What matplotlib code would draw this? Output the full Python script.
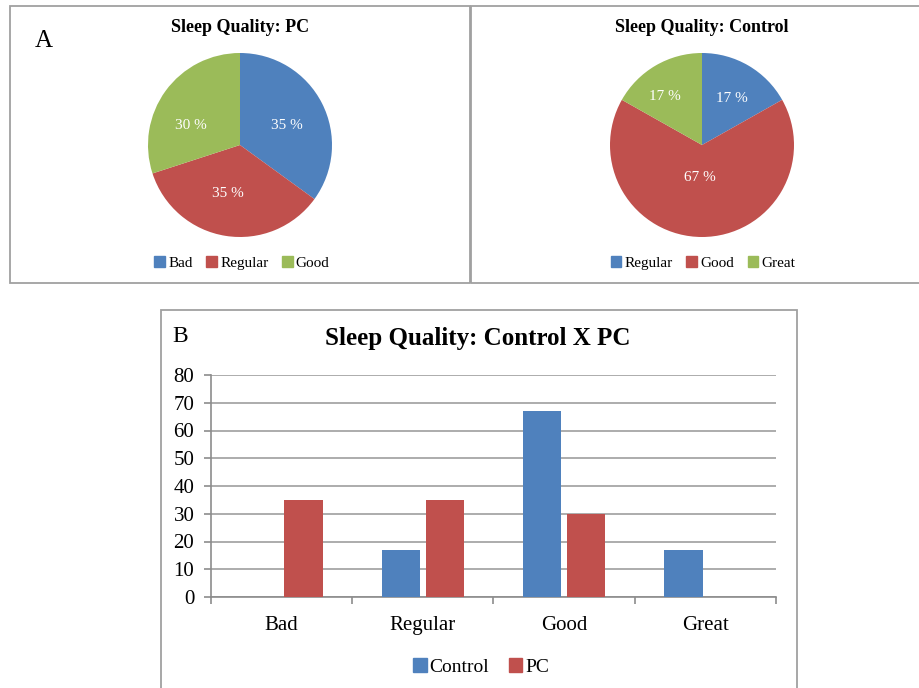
import numpy as np
import matplotlib.pyplot as plt
from matplotlib.patches import Rectangle, Patch

plt.rcParams['font.family'] = ['Liberation Serif', 'DejaVu Serif']

W, H = 920, 688
BLUE, RED, GREEN = '#4F81BD', '#C0504D', '#9BBB59'
GRAY = '#A0A0A0'

# pie data
pc_labels = ['Bad', 'Regular', 'Good']
pc_values = [35, 35, 30]
ctrl_labels = ['Regular', 'Good', 'Great']
ctrl_values = [17, 67, 17]

# bar data
categories = ['Bad', 'Regular', 'Good', 'Great']
control_bars = [0, 17, 67, 17]
pc_bars = [35, 35, 30, 0]


def fx(x):
    return x / W


def fy(y):
    return 1 - y / H


def box(x0, y0, x1, y1):
    # pixel box (top-left origin) -> figure fraction rect
    return [fx(x0), fy(y1), fx(x1) - fx(x0), fy(y0) - fy(y1)]


fig = plt.figure(figsize=(9.2, 6.88), dpi=100)

# panel frames
for x0, y0, x1, y1 in [(10, 6, 470, 283), (471, 6, 935, 283), (161, 310, 797, 700)]:
    fig.patches.append(Rectangle((fx(x0), fy(y1)), fx(x1) - fx(x0), fy(y0) - fy(y1),
                                 transform=fig.transFigure, fill=False,
                                 edgecolor=GRAY, lw=1.3))


def draw_pie(cx, cy, r, values, labels, title, dists, nudges, legend_x):
    ax = fig.add_axes(box(cx - 1.1 * r, cy - 1.1 * r, cx + 1.1 * r, cy + 1.1 * r))
    colors = [BLUE, RED, GREEN]
    wedges, _ = ax.pie(values, colors=colors, startangle=90, counterclock=False,
                       wedgeprops=dict(linewidth=0))
    ax.set_xlim(-1.1, 1.1)
    ax.set_ylim(-1.1, 1.1)
    # value labels inside each slice, slightly shifted off the mid angle
    for w, v, d, n in zip(wedges, values, dists, nudges):
        ang = np.deg2rad((w.theta1 + w.theta2) / 2 + n)
        ax.text(d * np.cos(ang), d * np.sin(ang), f'{v} %', color='white',
                ha='center', va='center', fontsize=11)
    fig.text(fx(cx), fy(27), title, ha='center', va='center',
             fontsize=13, fontweight='bold')
    handles = [Patch(color=c, label=l) for c, l in zip(colors, labels)]
    fig.legend(handles=handles, loc='center', bbox_to_anchor=(fx(legend_x), fy(263)),
               ncol=3, frameon=False, fontsize=11, handlelength=0.7,
               handleheight=0.7, handletextpad=0.2, columnspacing=0.9)


draw_pie(240, 145, 92, pc_values, pc_labels, 'Sleep Quality: PC',
         [0.555, 0.545, 0.575], [-4, -5, 14], 242)
draw_pie(702, 145, 92, ctrl_values, ctrl_labels, 'Sleep Quality: Control',
         [0.6, 0.35, 0.66], [-3, -3, 7], 703)

fig.text(fx(44), fy(41), 'A', ha='center', va='center', fontsize=18)

# grouped bars
ax = fig.add_axes(box(211, 375, 776, 597))
x = np.arange(len(categories))
bw = 0.27
ax.bar(x - 0.155, control_bars, bw, color=BLUE, linewidth=0, label='Control', zorder=3)
ax.bar(x + 0.155, pc_bars, bw, color=RED, linewidth=0, label='PC', zorder=3)
ax.set_xlim(-0.5, len(categories) - 0.5)
ax.set_ylim(0, 80)
ax.set_yticks(range(0, 81, 10))
ax.yaxis.grid(True, color='#A6A6A6', lw=1.3)
ax.set_axisbelow(True)
for s in ['top', 'right']:
    ax.spines[s].set_visible(False)
for s in ['left', 'bottom']:
    ax.spines[s].set_color('#8C8C8C')
    ax.spines[s].set_linewidth(1.2)
ax.set_xticks(x)
ax.set_xticklabels(categories)
ax.set_xticks(np.arange(-0.5, len(categories)), minor=True)
ax.tick_params(axis='x', which='major', length=0, pad=14, labelsize=15)
ax.tick_params(axis='x', which='minor', length=5, width=1.2, color='#8C8C8C')
ax.tick_params(axis='y', length=5, width=1.2, color='#8C8C8C', pad=7, labelsize=15)

fig.text(fx(478), fy(338), 'Sleep Quality: Control X PC', ha='center', va='center',
         fontsize=18, fontweight='bold')
fig.text(fx(180), fy(336), 'B', ha='center', va='center', fontsize=17)
fig.legend(handles=[Patch(color=BLUE, label='Control'), Patch(color=RED, label='PC')],
           loc='center', bbox_to_anchor=(fx(481), fy(667)), ncol=2, frameon=False,
           fontsize=14, handlelength=0.7, handleheight=0.7, handletextpad=0.15,
           columnspacing=1.0)

fig.savefig('out.png', dpi=100)
